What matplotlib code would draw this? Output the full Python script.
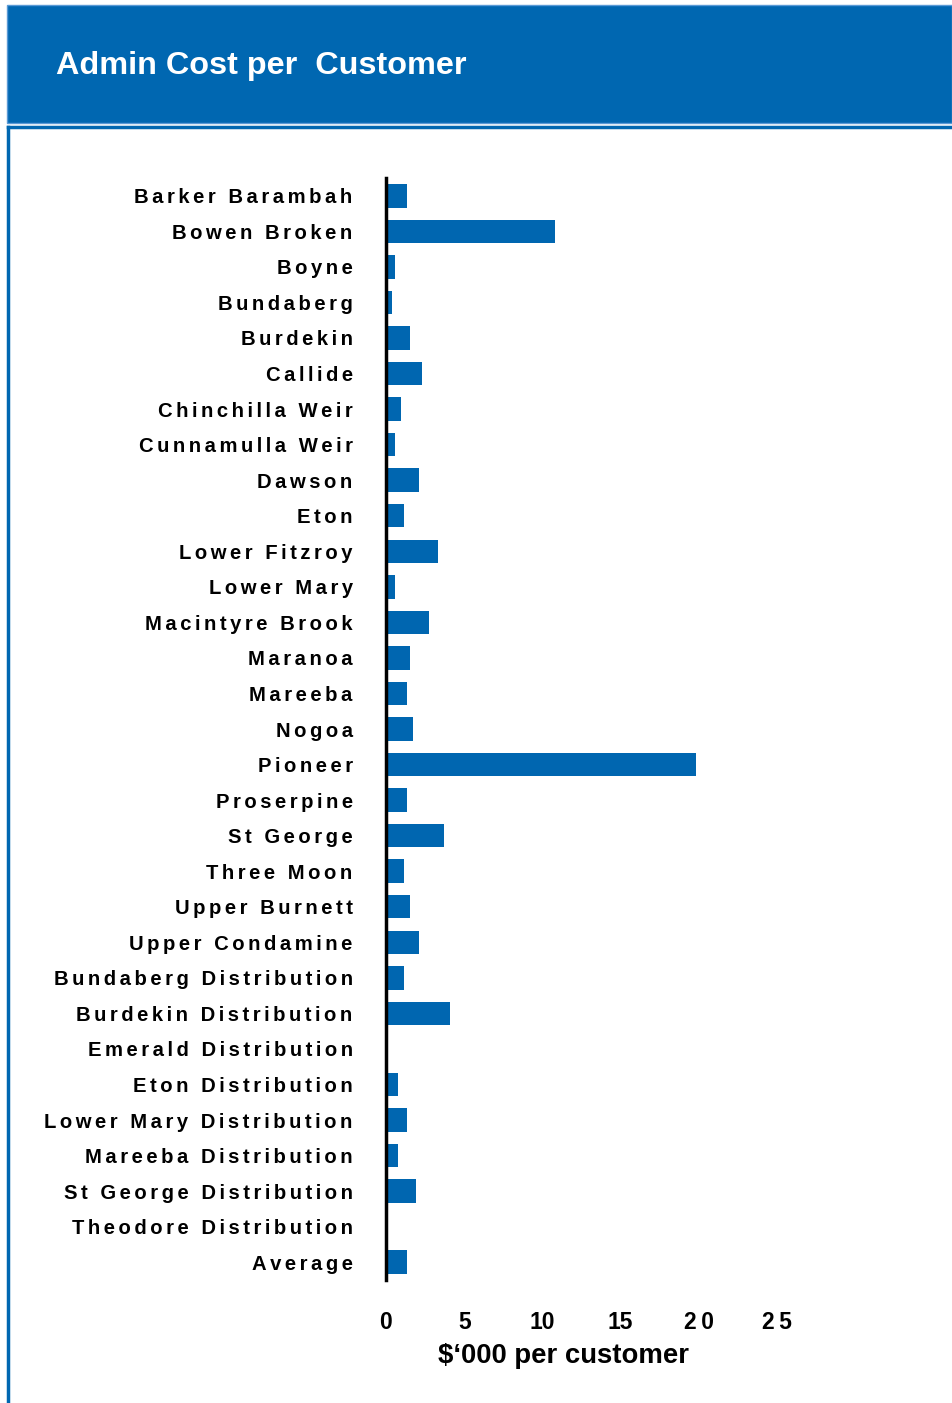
import matplotlib
matplotlib.use("Agg")
import matplotlib.pyplot as plt
from matplotlib.patches import Rectangle
from matplotlib.lines import Line2D

categories = [
    "Barker Barambah", "Bowen Broken", "Boyne", "Bundaberg", "Burdekin",
    "Callide", "Chinchilla Weir", "Cunnamulla Weir", "Dawson", "Eton",
    "Lower Fitzroy", "Lower Mary", "Macintyre Brook", "Maranoa", "Mareeba",
    "Nogoa", "Pioneer", "Proserpine", "St George", "Three Moon",
    "Upper Burnett", "Upper Condamine", "Bundaberg Distribution",
    "Burdekin Distribution", "Emerald Distribution", "Eton Distribution",
    "Lower Mary Distribution", "Mareeba Distribution",
    "St George Distribution", "Theodore Distribution", "Average",
]
values = [
    1.34, 10.8, 0.58, 0.38, 1.53,
    2.3, 0.96, 0.58, 2.1, 1.15,
    3.3, 0.58, 2.75, 1.53, 1.34,
    1.72, 19.8, 1.34, 3.7, 1.15,
    1.53, 2.1, 1.15,
    4.1, 0.0, 0.77,
    1.34, 0.77,
    1.9, 0.0, 1.34,
]
xticks = [0, 5, 10, 15, 20, 25]
xtick_labels = ["0", "5", "10", "15", "2\u20090", "2\u20095"]

title = "Admin Cost per  Customer"
xlabel = "$\u2018000 per customer"

BLUE = "#0067b1"
BAR = "#0066b0"
FONTS = ["Liberation Sans", "DejaVu Sans"]

def spaced(s):
    return "\u200a\u200a".join(list(s))

fig = plt.figure(figsize=(9.52, 14.03), dpi=100)
W, H = 952, 1403

def fx(px):
    return px / W

def fy(py):
    return 1 - py / H

# header box
fig.patches.append(Rectangle((fx(7), fy(123)), fx(952 - 7), 118 / H,
                             transform=fig.transFigure, facecolor=BLUE,
                             edgecolor="#5a9ad6", linewidth=1, zorder=0))
# frame lines
fig.lines.append(Line2D([fx(8), 1.0], [fy(127), fy(127)], transform=fig.transFigure,
                        color=BLUE, linewidth=2.5))
fig.lines.append(Line2D([fx(8), fx(8)], [fy(127), 0.0], transform=fig.transFigure,
                        color=BLUE, linewidth=2.5))
fig.text(fx(56), fy(66), title, color="white", fontsize=23.3, fontweight="bold",
         family=FONTS, ha="left", va="center")

ax = fig.add_axes([fx(386), fy(1280), fx(777 - 386), (1280 - 178) / H])
y = list(range(len(categories)))
ax.barh(y, values, height=0.66, color=BAR, zorder=2)
ax.set_ylim(len(categories) - 0.5, -0.5)
ax.set_xlim(0, 25)
ax.set_yticks(y)
ax.set_yticklabels([spaced(c) for c in categories], fontsize=14.6,
                   fontweight="bold", family=FONTS)
ax.set_xticks(xticks)
ax.set_xticklabels(xtick_labels, fontsize=16.5, fontweight="bold", family=FONTS)
ax.tick_params(axis="y", length=0, pad=24)
ax.tick_params(axis="x", length=0, pad=22)
for s in ["top", "right", "bottom"]:
    ax.spines[s].set_visible(False)
ax.spines["left"].set_linewidth(2.5)
ax.spines["left"].set_color("black")
ax.spines["left"].set_zorder(3)

fig.text(fx(563), fy(1356), xlabel, fontsize=19.8, fontweight="bold",
         family=FONTS, ha="center", va="center")

fig.savefig("out.png", dpi=100)
